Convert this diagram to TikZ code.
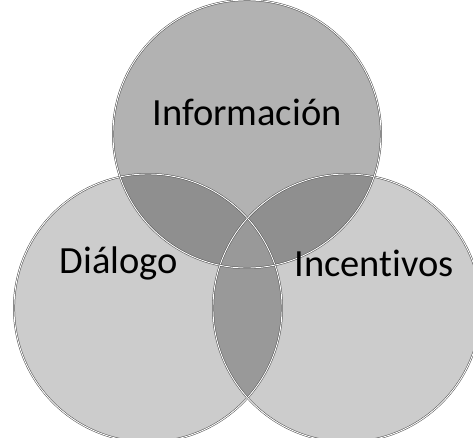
\documentclass[tikz,border=0pt]{standalone}
\usepackage{fontspec}
\setmainfont{Carlito}[Ligatures={NoCommon}]
\begin{document}
\begin{tikzpicture}[x=1pt,y=-1pt,
  ring/.style={draw=black!70, double=white, double distance=0.9pt, line width=0.5pt},
  lbl/.style={font=\fontsize{38.5}{44}\selectfont, text=black, inner sep=0pt}]
\useasboundingbox[fill=white] (0,0) rectangle (473,437);
\def\rad{134}
\coordinate (T) at (247,134);
\coordinate (L) at (148,308);
\coordinate (R) at (347,308);
\clip (0,0) rectangle (473,437);
% base fills
\fill[black!20] (L) circle (\rad);
\fill[black!20] (R) circle (\rad);
\fill[black!30] (T) circle (\rad);
% overlaps
\begin{scope}
  \clip (T) circle (\rad);
  \fill[black!44] (L) circle (\rad);
  \fill[black!44] (R) circle (\rad);
\end{scope}
\begin{scope}
  \clip (L) circle (\rad);
  \fill[black!40] (R) circle (\rad);
\end{scope}
% outlines
\draw[ring] (L) circle (\rad);
\draw[ring] (R) circle (\rad);
\draw[ring] (T) circle (\rad);
% labels
\node[lbl] (info) at (247,112) {Información};
\node[lbl] (dial) at (119,263) {Diálogo};
\node[lbl] (ince) at (374,263) {Incentivos};
\end{tikzpicture}
\end{document}
